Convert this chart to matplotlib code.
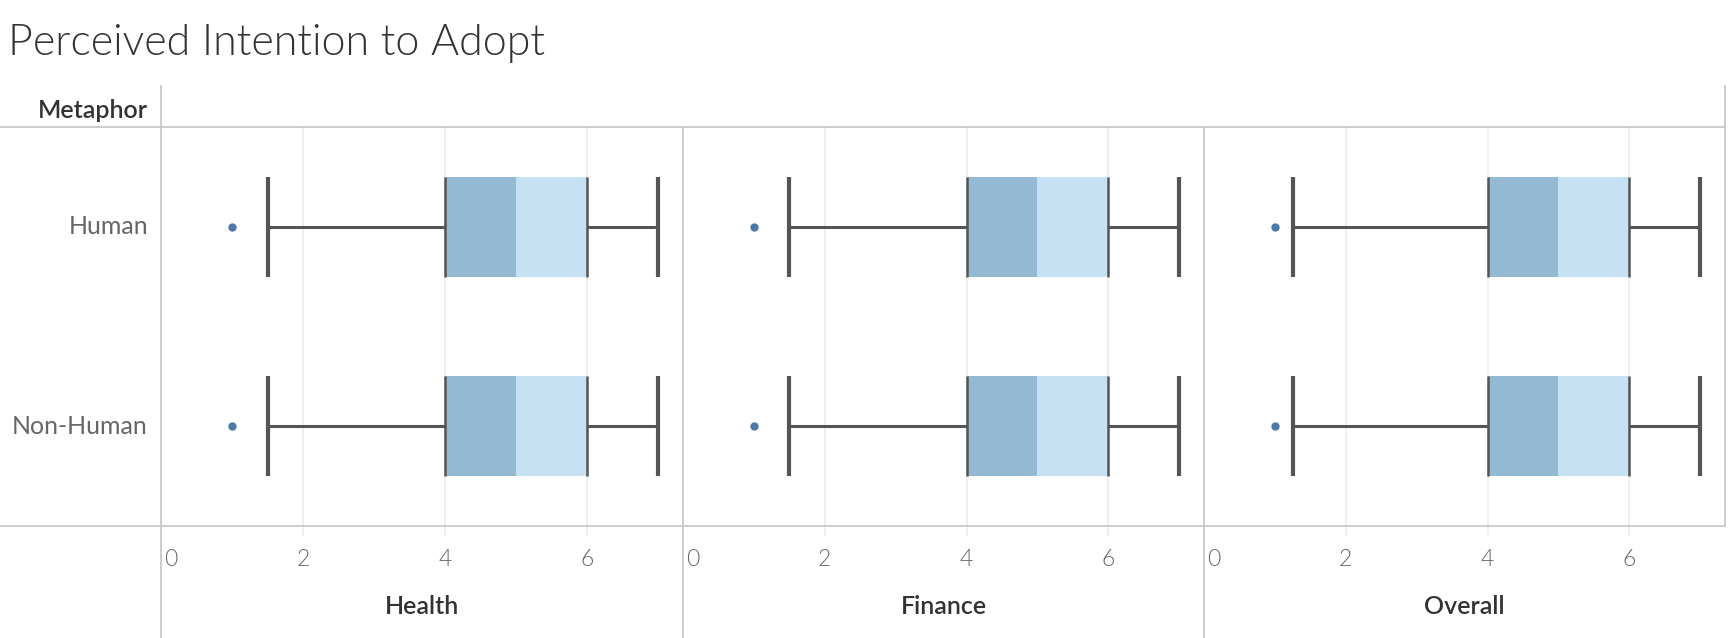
import matplotlib
matplotlib.use("Agg")
import matplotlib.pyplot as plt
from matplotlib.lines import Line2D
from matplotlib.transforms import blended_transform_factory

# ---- data ----
panels = ["Health", "Finance", "Overall"]
rows = ["Human", "Non-Human"]
outlier = {"Health": [1, 1], "Finance": [1, 1], "Overall": [1, 1]}
whisker_lo = {"Health": [1.5, 1.5], "Finance": [1.5, 1.5], "Overall": [1.25, 1.25]}
q1 = {"Health": [4, 4], "Finance": [4, 4], "Overall": [4, 4]}
median = {"Health": [5, 5], "Finance": [5, 5], "Overall": [5, 5]}
q3 = {"Health": [6, 6], "Finance": [6, 6], "Overall": [6, 6]}
whisker_hi = {"Health": [7, 7], "Finance": [7, 7], "Overall": [7, 7]}
ticks = [0, 2, 4, 6]
tick_labels = ["0", "2", "4", "6"]
x_max = 7.35

W, H = 1730, 638
fig = plt.figure(figsize=(W / 100, H / 100), dpi=100)
fig.patch.set_facecolor("white")

FONT = ["Lato", "DejaVu Sans"]
BORDER = "#c8c8c8"
LINE = "#555555"
DARK_BOX = "#93b9d3"
LIGHT_BOX = "#c5e1f3"
DOT = "#4e79a7"
GRID = "#ececec"


def fx(px):
    return px / W


def fy(py):
    return 1 - py / H


def fline(x0, y0, x1, y1, color=BORDER, lw=1.3):
    fig.add_artist(Line2D([fx(x0), fx(x1)], [fy(y0), fy(y1)], color=color,
                          lw=lw, transform=fig.transFigure))


# title
fig.text(fx(8), fy(55), "Perceived Intention to Adopt", fontsize=31,
         family=FONT, fontweight=300, color="#333333", va="baseline", ha="left")

# header
fig.text(fx(148), fy(118), "Metaphor", fontsize=18, family=FONT,
         fontweight=600, color="#333333", ha="right", va="baseline")

top, bottom = 127, 526
lefts = [161, 683, 1204]
rights = [683, 1204, 1725]

for i, p in enumerate(panels):
    ax = fig.add_axes([fx(lefts[i]), fy(bottom), fx(rights[i] - lefts[i]),
                       (bottom - top) / H])
    ax.set_xlim(0, x_max)
    ax.set_ylim(1.5, -0.5)
    for s in ax.spines.values():
        s.set_visible(False)
    ax.set_xticks(ticks[1:])
    ax.set_xticklabels([])
    ax.tick_params(axis="x", length=7, width=1.2, color=GRID)
    ax.set_yticks([])
    for t in ticks[1:]:
        ax.axvline(t, color=GRID, lw=1.2, zorder=0)
    ys = list(range(len(rows)))
    h = 0.5
    ax.barh(ys, [m - a for m, a in zip(median[p], q1[p])], left=q1[p],
            height=h, color=DARK_BOX, zorder=2)
    ax.barh(ys, [b - m for b, m in zip(q3[p], median[p])], left=median[p],
            height=h, color=LIGHT_BOX, zorder=2)
    for j, y in enumerate(ys):
        ax.hlines(y, whisker_lo[p][j], q1[p][j], color=LINE, lw=2.2, zorder=3)
        ax.hlines(y, q3[p][j], whisker_hi[p][j], color=LINE, lw=2.2, zorder=3)
        ax.vlines([whisker_lo[p][j], whisker_hi[p][j]], y - h / 2, y + h / 2,
                  color=LINE, lw=3, zorder=3)
        ax.vlines([q1[p][j], q3[p][j]], y - h / 2, y + h / 2,
                  color=LINE, lw=1.8, zorder=3)
        ax.plot([outlier[p][j]], [y], "o", color=DOT, ms=5, zorder=4)
    tr = blended_transform_factory(ax.transData, fig.transFigure)
    for t, lab in zip(ticks, tick_labels):
        ax.text(0.04 if t == 0 else t, fy(559), lab, transform=tr,
                ha="left" if t == 0 else "center", va="center",
                fontsize=16.5, family=FONT, fontweight=300, color="#666666")
    fig.text(fx((lefts[i] + rights[i]) / 2), fy(607), p, ha="center",
             va="center", fontsize=18, family=FONT, fontweight=600,
             color="#333333")

# row labels
row_y = [227, 427]
for r, yy in zip(rows, row_y):
    fig.text(fx(148), fy(yy), r, ha="right", va="center", fontsize=18,
             family=FONT, color="#666666")

# borders
fline(0, top, 1725, top)
fline(0, bottom, 1725, bottom)
fline(161, 86, 161, H)
fline(1725, 86, 1725, bottom)
fline(683, top, 683, H)
fline(1204, top, 1204, H)

fig.savefig("out.png", dpi=100, facecolor="white")
